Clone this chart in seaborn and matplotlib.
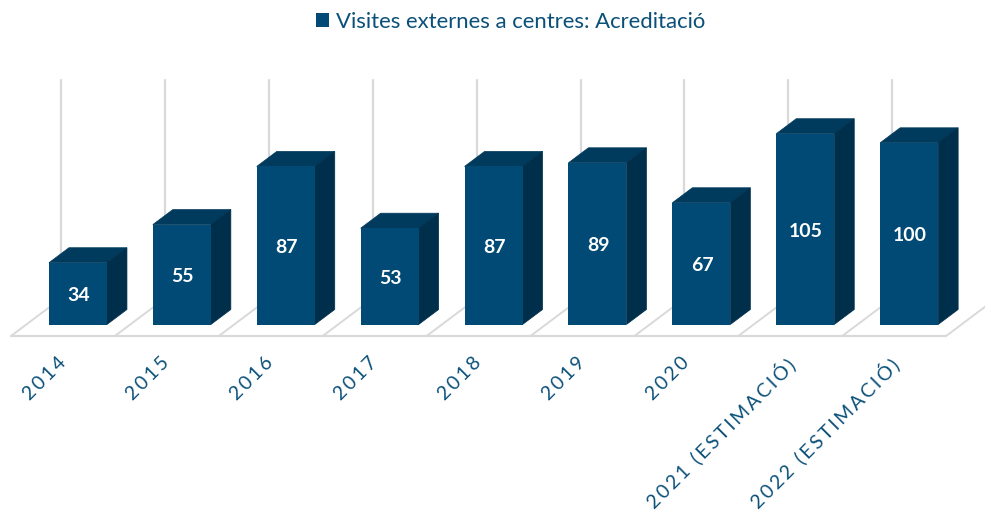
import matplotlib

matplotlib.use("Agg")
import matplotlib.pyplot as plt
import matplotlib.transforms as mtrans
import pandas as pd
import seaborn as sns
from matplotlib.patches import Polygon

years = ["2014", "2015", "2016", "2017", "2018", "2019", "2020",
         "2021 (ESTIMACIÓ)", "2022 (ESTIMACIÓ)"]
visits = [34, 55, 87, 53, 87, 89, 67, 105, 100]
series_name = "Visites externes a centres: Acreditació"

FRONT = "#004A75"
TOP = "#003A5C"
SIDE = "#002F4B"
TEXT = "#0B5079"
GRID = "#D9D9D9"

W, H = 985, 514
PX_X = 103.9  # pixels per category
PX_Y = 1.817  # pixels per visit
LEFT, BASE = 26, 324.5
BOTTOM_PX, TOP_PX = 337, 80


def spaced(label):
    # chart labels have wide letter spacing
    return "\u2009".join(label)


sns.set_theme(style="white")
plt.rcParams["font.family"] = ["Lato", "DejaVu Sans"]

fig = plt.figure(figsize=(W / 100, H / 100), dpi=100)
ax = fig.add_axes([LEFT / W, 1 - BOTTOM_PX / H, PX_X * 9 / W, (BOTTOM_PX - TOP_PX) / H])

df = pd.DataFrame({"year": years, "visits": visits})
sns.barplot(data=df, x="year", y="visits", color=FRONT, saturation=1, width=58 / PX_X,
            label=series_name, ax=ax, zorder=4, edgecolor=FRONT, linewidth=0)
ax.set_xlim(-0.5, 8.5)
ax.set_ylim((BASE - BOTTOM_PX) / PX_Y, (BASE - TOP_PX) / PX_Y)
sns.despine(ax=ax, left=True, bottom=True)
ax.set_yticks([])
ax.set_xlabel("")
ax.set_ylabel("")

# depth of the bars, and of the floor in front of and behind them
dx, dy = 20 / PX_X, 15 / PX_Y
front_dx, front_dy = -15 / PX_X, -11.5 / PX_Y
back_dx, back_dy = 35 / PX_X, 26 / PX_Y

for bar in ax.patches:
    x0, x1, h = bar.get_x(), bar.get_x() + bar.get_width(), bar.get_height()
    ax.add_patch(Polygon([(x0, h), (x1, h), (x1 + dx, h + dy), (x0 + dx, h + dy)],
                         fc=TOP, ec=TOP, lw=0.5, zorder=3, clip_on=False))
    ax.add_patch(Polygon([(x1, 0), (x1, h), (x1 + dx, h + dy), (x1 + dx, dy)],
                         fc=SIDE, ec=SIDE, lw=0.5, zorder=3, clip_on=False))

# floor and back grid lines
edges = [i - 0.5 for i in range(len(years) + 1)]
ax.plot([edges[0] + front_dx, edges[-1] + front_dx], [front_dy, front_dy],
        color=GRID, lw=1.6, zorder=1, clip_on=False)
for e in edges:
    ax.plot([e + front_dx, e + back_dx], [front_dy, back_dy], color=GRID, lw=1.4, zorder=1,
            clip_on=False, solid_capstyle="butt")
    ax.plot([e + back_dx, e + back_dx], [back_dy, ax.get_ylim()[1]], color=GRID, lw=1.6,
            zorder=1, clip_on=False)

value_labels = ax.bar_label(ax.containers[0], label_type="center", color="white", fontsize=14,
                            fontweight="bold", zorder=5)
for t in value_labels:
    t.xyann = (0.5, -1.5)

ax.set_xticks(range(len(years)))
ax.set_xticklabels([spaced(y) for y in years], rotation=45, ha="right",
                   rotation_mode="anchor", fontsize=14, color=TEXT)
ax.tick_params(axis="x", length=0, pad=12)
shift = mtrans.ScaledTranslation(-21 / 100, 0, fig.dpi_scale_trans)
for lab in ax.get_xticklabels():
    lab.set_transform(lab.get_transform() + shift)

leg = ax.legend(loc="center", bbox_to_anchor=(510.5 / W, 1 - 22 / H),
                bbox_transform=fig.transFigure, frameon=False, fontsize=15.9, labelcolor=TEXT,
                handlelength=0.6, handleheight=0.6, handletextpad=0.3)

fig.savefig("out.png", dpi=100)
plt.close(fig)
